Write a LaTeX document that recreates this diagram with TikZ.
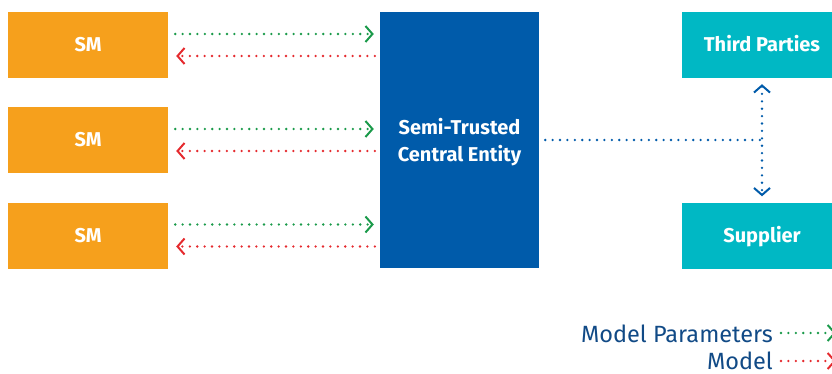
\documentclass[tikz,border=0pt]{standalone}
\usepackage{fontspec}
\setmainfont{Fira Sans}
\usetikzlibrary{arrows.meta}
\definecolor{smorange}{HTML}{F6A01C}
\definecolor{entblue}{HTML}{005BAA}
\definecolor{partyteal}{HTML}{00B8C4}
\definecolor{parmgreen}{HTML}{1A9A4A}
\definecolor{modelred}{HTML}{E52A2E}
\definecolor{legendblue}{HTML}{114A86}
\tikzset{
  box/.style={rectangle, inner sep=0pt, text=white, font=\fontsize{20}{27}\selectfont\bfseries, align=center},
  % single-line labels: centre the capitals in the box
  capcentred/.style={text height=14pt, text depth=0pt},
  smbox/.style={box, capcentred, fill=smorange, minimum width=160pt, minimum height=66pt},
  entbox/.style={box, fill=entblue, minimum width=159pt, minimum height=256pt},
  partybox/.style={box, capcentred, fill=partyteal, minimum width=160pt, minimum height=66pt},
  dots/.style={line width=2.6pt, line cap=round, dash pattern=on 0pt off 7.4pt},
  barb/.style={-{Straight Barb[length=7pt,width=16pt,line width=2pt]}},
  barbboth/.style={{Straight Barb[length=7pt,width=16pt,line width=2pt]}-{Straight Barb[length=7pt,width=16pt,line width=2pt]}},
  params/.style={dots, barb, draw=parmgreen},
  model/.style={dots, barb, draw=modelred},
  legendtext/.style={text=legendblue, font=\fontsize{23.5}{27}\selectfont, inner sep=0pt, anchor=base east},
}
\begin{document}
\begin{tikzpicture}[x=1pt, y=-1pt]
  \useasboundingbox (0,0) rectangle (832,374);
  \clip (0,0) rectangle (832,374);

  % smart meters
  \node[smbox] (sm1) at (88,45) {SM};
  \node[smbox] (sm2) at (88,140) {SM};
  \node[smbox] (sm3) at (88,235.5) {SM};

  % central entity
  \node[entbox] (ent) at (459.5,140) {\rule{0pt}{20pt}Semi-Trusted\\Central Entity};

  % external parties
  \node[partybox] (third) at (762,45) {Third Parties};
  \node[partybox] (supp) at (762,235.5) {Supplier};

  % parameters up, model down
  \foreach \s in {sm1,sm2,sm3} {
    \draw[params, shorten <=7pt, shorten >=6pt] ([yshift=11pt]\s.east) -- ([yshift=11pt]\s.east -| ent.west);
    \draw[model, shorten <=5pt, shorten >=8pt] ([yshift=-11pt]\s.east -| ent.west) -- ([yshift=-11pt]\s.east);
  }

  % link to third parties and supplier
  \coordinate (junc) at (third.south |- ent.east);
  \draw[dots, draw=entblue, shorten <=6pt] (ent.east) -- (junc);
  \draw[dots, barbboth, draw=entblue, shorten <=6pt, shorten >=6pt] (third.south) -- (supp.north);

  % legend
  \node[legendtext] (lparams) at (773,342) {Model Parameters};
  \node[legendtext] (lmodel) at (773,369) {Model};
  \coordinate (lpend) at (836,333);
  \coordinate (lmend) at (836,361);
  \draw[params, shorten <=8pt] (lparams.east |- lpend) -- (lpend);
  \draw[model, shorten <=8pt] (lmodel.east |- lmend) -- (lmend);
\end{tikzpicture}
\end{document}
